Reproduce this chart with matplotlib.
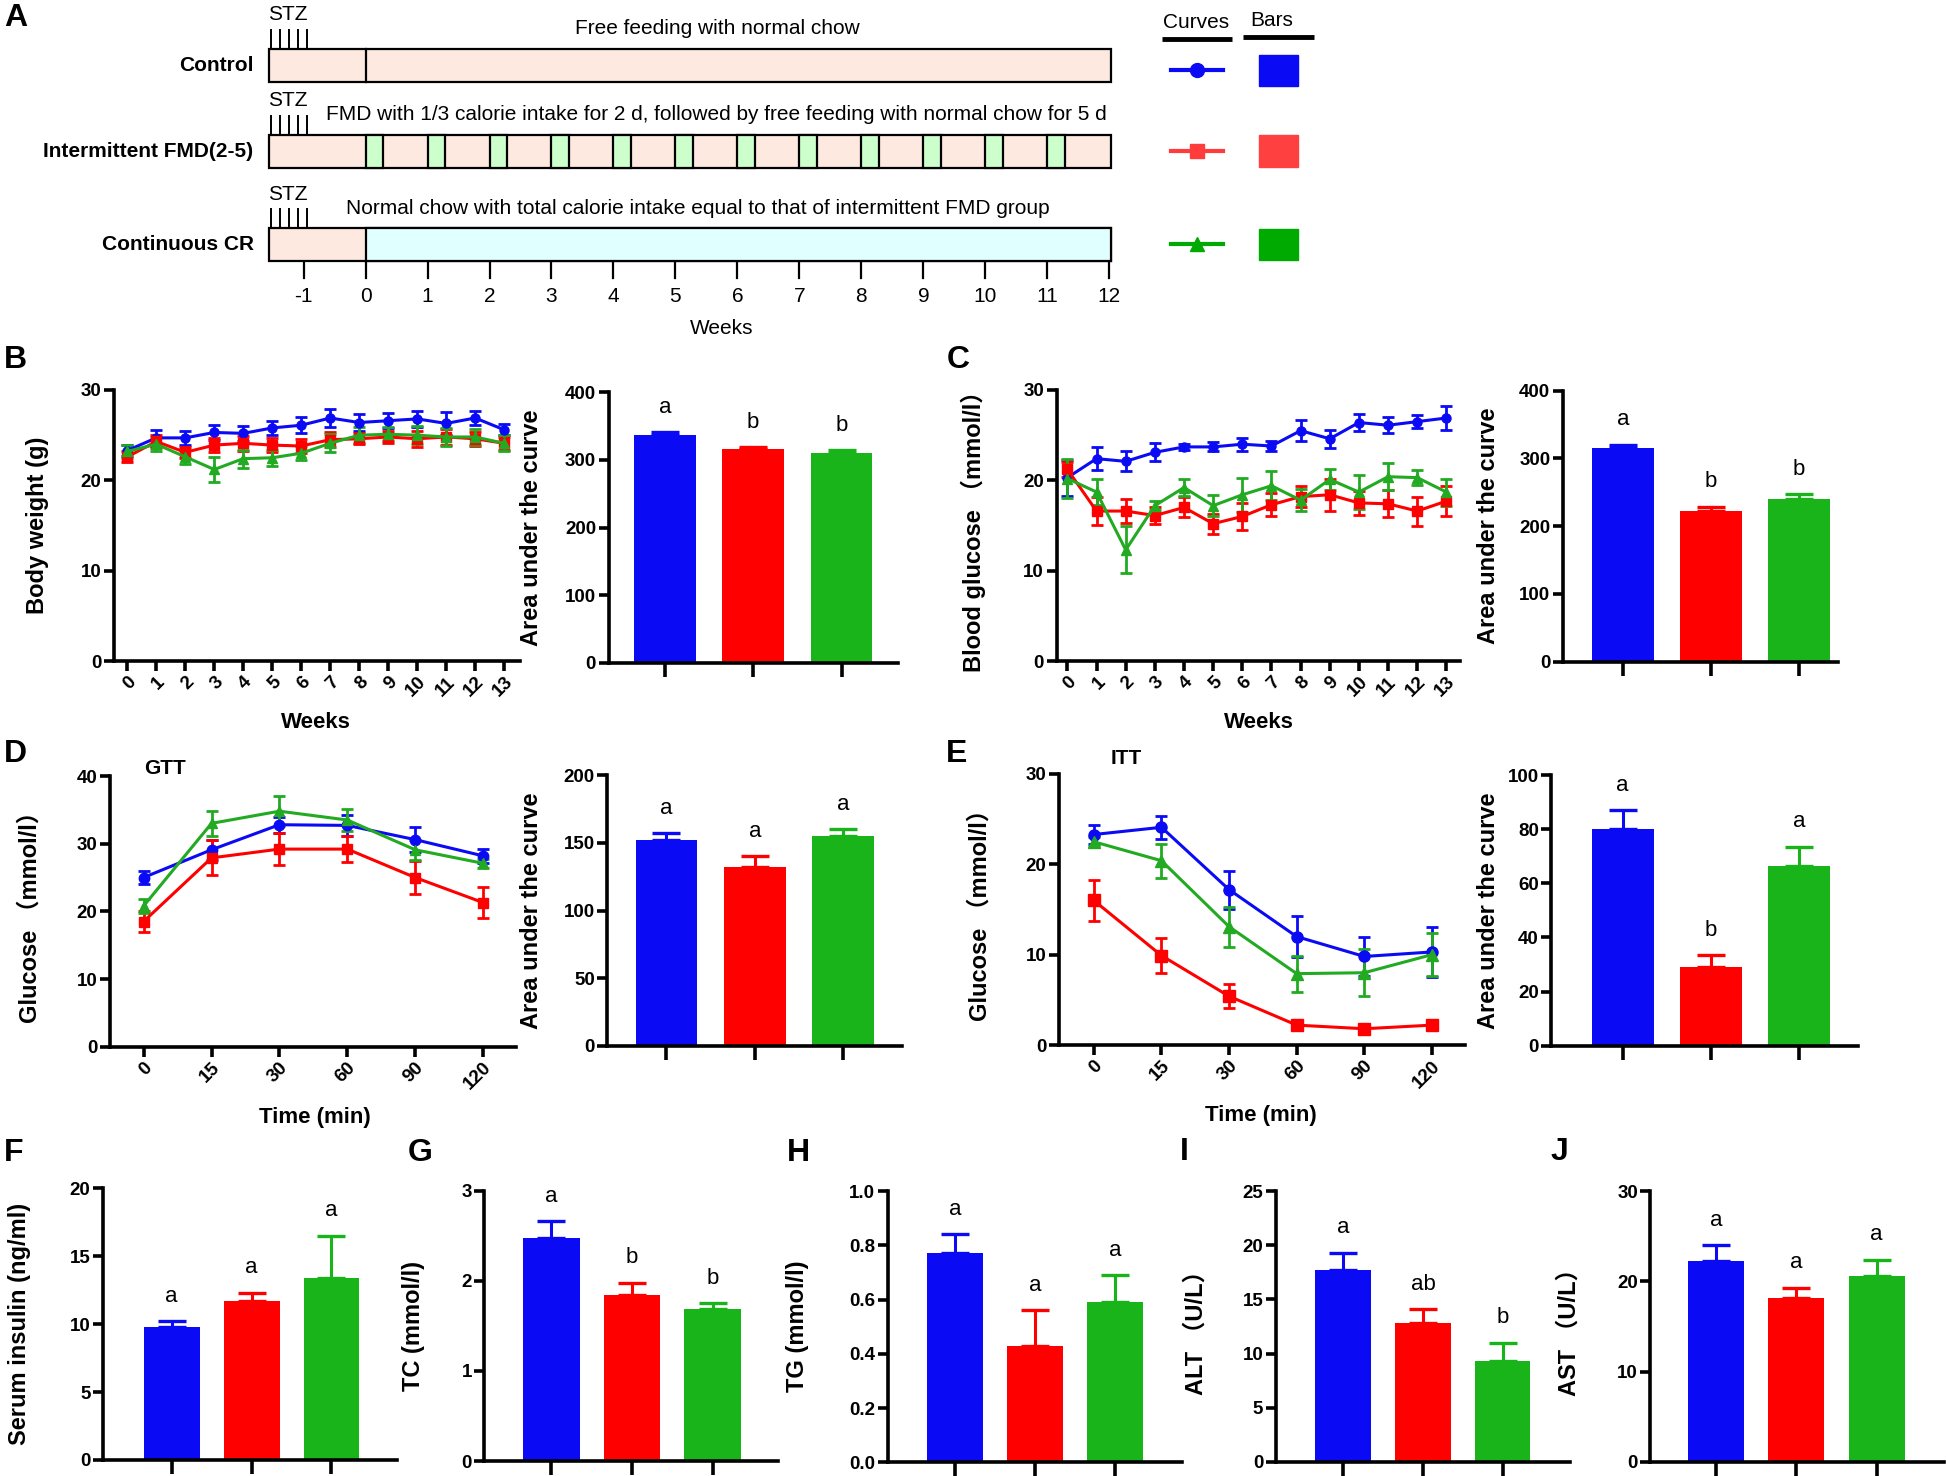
import matplotlib
matplotlib.use("Agg")
import matplotlib.pyplot as plt
import numpy as np
from matplotlib.patches import Rectangle

plt.rcParams['font.family'] = ['Liberation Sans', 'Noto Sans CJK SC', 'DejaVu Sans']

W, H = 1946, 1476
BLUE = '#0A0AF5'
RED = '#FF0000'
GREEN = '#19B419'
LINE_GREEN = '#22AA22'
BAR_COLORS = [BLUE, RED, GREEN]

groups = ['Control', 'Intermittent FMD(2-5)', 'Continuous CR']

# ---- data ----
weeks = list(range(14))
bw_ctrl = [23.3, 24.7, 24.7, 25.3, 25.2, 25.8, 26.1, 26.9, 26.4, 26.6, 26.8, 26.3, 26.9, 25.6]
bw_ctrl_err = [0.6, 0.9, 0.8, 0.8, 0.8, 0.8, 0.9, 1.0, 0.9, 0.8, 0.9, 1.3, 0.8, 0.6]
bw_fmd = [22.6, 24.3, 23.1, 23.9, 24.1, 23.9, 23.8, 24.5, 24.6, 24.8, 24.6, 24.8, 24.6, 24.1]
bw_fmd_err = [0.6, 0.7, 0.6, 0.8, 0.8, 0.8, 0.8, 0.8, 0.6, 0.7, 0.9, 0.9, 0.8, 0.7]
bw_cr = [23.2, 24.0, 22.6, 21.2, 22.4, 22.5, 23.0, 24.1, 25.0, 25.1, 25.0, 24.8, 24.8, 24.1]
bw_cr_err = [0.7, 0.8, 0.8, 1.4, 1.0, 0.9, 0.8, 1.0, 0.9, 0.8, 1.0, 1.0, 0.9, 0.9]
bw_auc = [337, 316, 310]
bw_auc_err = [4, 3, 4]
bw_letters = ['a', 'b', 'b']

bg_ctrl = [20.3, 22.4, 22.1, 23.1, 23.7, 23.7, 24.0, 23.8, 25.5, 24.6, 26.4, 26.1, 26.5, 26.9]
bg_ctrl_err = [2.0, 1.3, 1.1, 1.0, 0.3, 0.5, 0.7, 0.6, 1.2, 1.0, 0.9, 0.9, 0.7, 1.3]
bg_fmd = [21.2, 16.6, 16.6, 16.1, 17.0, 15.2, 16.0, 17.3, 18.2, 18.4, 17.5, 17.4, 16.6, 17.7]
bg_fmd_err = [0.8, 1.5, 1.3, 0.9, 1.1, 1.1, 1.5, 1.3, 1.2, 1.8, 1.3, 1.5, 1.6, 1.7]
bg_cr = [20.2, 18.7, 12.3, 17.2, 19.2, 17.2, 18.4, 19.4, 17.8, 20.1, 18.7, 20.4, 20.3, 18.7]
bg_cr_err = [2.2, 1.4, 2.6, 0.5, 0.9, 1.2, 1.9, 1.6, 1.2, 1.2, 1.9, 1.5, 0.8, 1.5]
bg_auc = [316, 223, 240]
bg_auc_err = [4, 6, 7]
bg_letters = ['a', 'b', 'b']

time_labels = ['0', '15', '30', '60', '90', '120']
gtt_ctrl = [25.0, 29.1, 32.8, 32.7, 30.6, 28.2]
gtt_ctrl_err = [0.9, 1.5, 1.2, 1.6, 1.8, 1.0]
gtt_fmd = [18.5, 27.9, 29.2, 29.2, 25.0, 21.3]
gtt_fmd_err = [1.5, 2.6, 2.4, 1.9, 2.5, 2.3]
gtt_cr = [20.8, 33.0, 34.8, 33.5, 29.1, 27.1]
gtt_cr_err = [1.0, 1.9, 2.2, 1.6, 1.5, 0.7]
gtt_auc = [152, 132, 155]
gtt_auc_err = [5, 8, 5]
gtt_letters = ['a', 'a', 'a']

itt_ctrl = [23.3, 24.1, 17.2, 12.0, 9.8, 10.3]
itt_ctrl_err = [1.0, 1.3, 2.1, 2.3, 2.2, 2.8]
itt_fmd = [16.0, 9.9, 5.4, 2.2, 1.8, 2.2]
itt_fmd_err = [2.3, 1.9, 1.3, 0.4, 0.4, 0.4]
itt_cr = [22.5, 20.4, 13.1, 7.9, 8.0, 10.0]
itt_cr_err = [0.5, 1.9, 2.2, 2.0, 2.6, 2.4]
itt_auc = [80, 29, 66.5]
itt_auc_err = [7, 4.5, 7]
itt_letters = ['a', 'b', 'a']

insulin = [9.8, 11.7, 13.4]
insulin_err = [0.4, 0.6, 3.1]
insulin_letters = ['a', 'a', 'a']
tc = [2.48, 1.84, 1.69]
tc_err = [0.18, 0.14, 0.06]
tc_letters = ['a', 'b', 'b']
tg = [0.77, 0.43, 0.59]
tg_err = [0.07, 0.13, 0.10]
tg_letters = ['a', 'a', 'a']
alt = [17.7, 12.8, 9.3]
alt_err = [1.6, 1.3, 1.7]
alt_letters = ['a', 'ab', 'b']
ast = [22.2, 18.1, 20.6]
ast_err = [1.8, 1.2, 1.8]
ast_letters = ['a', 'a', 'a']

# schedule (weeks)
stz_start = -1.52
stz_days = 5
diet_start = 0
schedule_end = 12
fmd_weeks = list(range(12))
fmd_len = 2 / 7
row_texts = ['Free feeding with normal chow',
             'FMD with 1/3 calorie intake for 2 d, followed by free feeding with normal chow for 5 d',
             'Normal chow with total calorie intake equal to that of intermittent FMD group']

fig = plt.figure(figsize=(W / 100, H / 100), dpi=100)


def px_axes(x0, y0, x1, y1):
    return fig.add_axes([x0 / W, 1 - y1 / H, (x1 - x0) / W, (y1 - y0) / H])


def ftext(x, y, s, **kw):
    fig.text(x / W, 1 - y / H, s, **kw)


def style(ax, xlim, ylim, yticks, ylabel, lab_x, yticklabels=None):
    ax.set_xlim(xlim)
    ax.set_ylim(ylim)
    ax.set_yticks(yticks)
    if yticklabels is not None:
        ax.set_yticklabels(yticklabels)
    ax.spines[['top', 'right']].set_visible(False)
    ax.spines[['left', 'bottom']].set_linewidth(2.6)
    ax.tick_params(width=2.6, length=7, labelsize=13.5, pad=2)
    for t in ax.get_yticklabels():
        t.set_fontweight('bold')
    ax.patch.set_alpha(0)
    bb = ax.get_position()
    ax.set_ylabel(ylabel, fontsize=17, fontweight='bold')
    ax.yaxis.set_label_coords((lab_x / W - bb.x0) / bb.width, 0.5)


def line_panel(rect, x, series, xlabels, xlim, ylim, yticks, ylabel, lab_x, ms=7):
    ax = px_axes(*rect)
    markers = ['o', 's', '^']
    colors = [BLUE, RED, LINE_GREEN]
    for (vals, err), m, c in zip(series, markers, colors):
        ax.errorbar(x, vals, yerr=err, color=c, marker=m, ms=ms, lw=2.2,
                    elinewidth=2, capsize=4.5, capthick=2)
    ax.set_xticks(x)
    ax.set_xticklabels(xlabels, rotation=45, ha='right', rotation_mode='anchor',
                       fontweight='bold', fontsize=14.5)
    style(ax, xlim, ylim, yticks, ylabel, lab_x)
    return ax


def bar_panel(rect, vals, errs, letters, xlim, ylim, yticks, ylabel, lab_x, yticklabels=None):
    ax = px_axes(*rect)
    x = np.arange(3)
    ax.bar(x, vals, width=0.7, color=BAR_COLORS, zorder=2)
    for xi, v, e, c, l in zip(x, vals, errs, BAR_COLORS, letters):
        ax.errorbar([xi], [v], yerr=[[0], [e]], fmt='none', ecolor=c,
                    elinewidth=2.2, capsize=10, capthick=2.4, zorder=1)
        ax.annotate(l, (xi, v + e), xytext=(0, 18), textcoords='offset points',
                    ha='center', va='center', fontsize=16)
    ax.set_xticks(x)
    ax.set_xticklabels([])
    style(ax, xlim, ylim, yticks, ylabel, lab_x, yticklabels)
    ax.tick_params(axis='x', length=10)
    return ax


# ---- panel A: schedule ----
axA = px_axes(260, 0, 1120, 340)
axA.set_xlim(-1.703, 12.173)
axA.set_ylim(340, 0)
axA.axis('off')
PEACH = '#FDE9E0'
CYAN = '#E0FFFF'
LGREEN = '#CCFFCC'
bar_tops = [49, 135, 228.3]
bar_h = 32.6
left_edge = -1.565
for i, top in enumerate(bar_tops):
    axA.add_patch(Rectangle((left_edge, top), schedule_end - left_edge + 0.03, bar_h,
                            facecolor=PEACH, edgecolor='black', lw=1.6))
    if i == 2:
        axA.add_patch(Rectangle((diet_start, top), schedule_end - diet_start + 0.03, bar_h,
                                facecolor=CYAN, edgecolor='black', lw=1.6))
    elif i == 0:
        axA.plot([diet_start, diet_start], [top, top + bar_h], color='black', lw=1.6)
    else:
        for wk in fmd_weeks:
            axA.add_patch(Rectangle((wk, top), fmd_len, bar_h,
                                    facecolor=LGREEN, edgecolor='black', lw=1.6))
    for d in range(stz_days):
        xx = stz_start + d / 7
        axA.plot([xx, xx], [top - 19, top], color='black', lw=1.4)
    axA.text(-1.255, top - 34, 'STZ', ha='center', va='center', fontsize=15)
    axA.text([5.68, 5.66, 5.36][i], top - 20, row_texts[i], ha='center', va='center',
             fontsize=15)
    axA.text(-1.807, top + bar_h / 2, groups[i], ha='right', va='center',
             fontsize=15, fontweight='bold', clip_on=False)
week_ticks = list(range(-1, 13))
for wk in week_ticks:
    axA.plot([wk, wk], [263.3, 278.3], color='black', lw=1.6)
    axA.text(wk, 296.7, str(wk), ha='center', va='center', fontsize=15)
axA.text(5.74, 328.3, 'Weeks', ha='center', va='center', fontsize=15)

# legend (curves / bars)
axL = px_axes(1140, 0, 1340, 280)
axL.set_xlim(1140, 1340)
axL.set_ylim(280, 0)
axL.axis('off')
axL.text(1196, 22.7, 'Curves', ha='center', va='center', fontsize=15)
axL.text(1271.7, 20, 'Bars', ha='center', va='center', fontsize=15)
axL.plot([1161.7, 1232.3], [39, 39], color='black', lw=3.5, solid_capstyle='butt')
axL.plot([1243.3, 1314.3], [37, 37], color='black', lw=3.5, solid_capstyle='butt')
leg_y = [70.3, 150.7, 244]
leg_markers = ['o', 's', '^']
leg_line_colors = [BLUE, '#FF3B3B', '#00AA00']
leg_bar_colors = [BLUE, '#FF4040', '#00AA00']
for yy, m, lc, bc in zip(leg_y, leg_markers, leg_line_colors, leg_bar_colors):
    axL.plot([1171, 1222.7], [yy, yy], color=lc, lw=3)
    axL.plot([1196.7], [yy], color=lc, marker=m, ms=10, lw=0)
    axL.add_patch(Rectangle((1259.3, yy - 15.5), 39, 31.7, color=bc))

# ---- panel B ----
line_panel((113.7, 390, 519.5, 661), weeks,
           [(bw_ctrl, bw_ctrl_err), (bw_fmd, bw_fmd_err), (bw_cr, bw_cr_err)],
           [str(w) for w in weeks], (-0.47, 13.53), (0, 30), [0, 10, 20, 30],
           'Body weight (g)', 49, ms=6.5)
ftext(316, 723, 'Weeks', ha='center', va='center', fontsize=16, fontweight='bold')
bar_panel((608.5, 392.3, 898, 662.7), bw_auc, bw_auc_err, bw_letters, (-0.64, 2.64),
          (0, 400), [0, 100, 200, 300, 400], 'Area under the curve', 542.5)

# ---- panel C ----
line_panel((1056.5, 390, 1459.5, 661), weeks,
           [(bg_ctrl, bg_ctrl_err), (bg_fmd, bg_fmd_err), (bg_cr, bg_cr_err)],
           [str(w) for w in weeks], (-0.374, 13.45), (0, 30), [0, 10, 20, 30],
           'Blood glucose （mmol/l）', 986, ms=6.5)
ftext(1258.6, 723, 'Weeks', ha='center', va='center', fontsize=16, fontweight='bold')
bar_panel((1562.8, 390.7, 1838, 661.7), bg_auc, bg_auc_err, bg_letters, (-0.68, 2.44),
          (0, 400), [0, 100, 200, 300, 400], 'Area under the curve', 1500)

# ---- panel D ----
tx = list(range(len(time_labels)))
line_panel((109.7, 776, 515.6, 1046.7), tx,
           [(gtt_ctrl, gtt_ctrl_err), (gtt_fmd, gtt_fmd_err), (gtt_cr, gtt_cr_err)],
           time_labels, (-0.5, 5.48), (0, 40), [0, 10, 20, 30, 40],
           'Glucose （mmol/l）', 42, ms=7.5)
ftext(164.9, 768, 'GTT', ha='center', va='center', fontsize=15, fontweight='bold')
ftext(314.7, 1118, 'Time (min)', ha='center', va='center', fontsize=16, fontweight='bold')
bar_panel((607.3, 775, 902.3, 1046), gtt_auc, gtt_auc_err, gtt_letters, (-0.67, 2.67),
          (0, 200), [0, 50, 100, 150, 200], 'Area under the curve', 542.6)

# ---- panel E ----
line_panel((1058.7, 774, 1465, 1045), tx,
           [(itt_ctrl, itt_ctrl_err), (itt_fmd, itt_fmd_err), (itt_cr, itt_cr_err)],
           time_labels, (-0.52, 5.49), (0, 30), [0, 10, 20, 30],
           'Glucose （mmol/l）', 991.6, ms=8)
ftext(1126.5, 758, 'ITT', ha='center', va='center', fontsize=15, fontweight='bold')
ftext(1261, 1115, 'Time (min)', ha='center', va='center', fontsize=16, fontweight='bold')
bar_panel((1551.3, 775, 1858, 1045.7), itt_auc, itt_auc_err, itt_letters, (-0.81, 2.67),
          (0, 100), [0, 20, 40, 60, 80, 100], 'Area under the curve', 1499.6)

# ---- panels F-J ----
bar_panel((103, 1188.3, 397, 1460), insulin, insulin_err, insulin_letters, (-0.86, 2.82),
          (0, 20), [0, 5, 10, 15, 20], 'Serum insulin (ng/ml)', 31)
bar_panel((484.4, 1190.7, 778, 1461), tc, tc_err, tc_letters, (-0.83, 2.81),
          (0, 3), [0, 1, 2, 3], 'TC (mmol/l)', 425)
bar_panel((887.5, 1191, 1182, 1462.3), tg, tg_err, tg_letters, (-0.84, 2.83),
          (0, 1.0), [0, 0.2, 0.4, 0.6, 0.8, 1.0], 'TG (mmol/l)', 809,
          yticklabels=['0.0', '0.2', '0.4', '0.6', '0.8', '1.0'])
bar_panel((1275.7, 1191, 1570.2, 1462), alt, alt_err, alt_letters, (-0.85, 2.85),
          (0, 25), [0, 5, 10, 15, 20, 25], 'ALT （U/L）', 1208)
bar_panel((1650.4, 1191, 1944, 1462), ast, ast_err, ast_letters, (-0.82, 2.84),
          (0, 30), [0, 10, 20, 30], 'AST （U/L）', 1580.7)

# panel letters
for letter, (lx, ly) in zip('ABCDEFGHIJ',
                            [(16, 18), (15, 360), (958, 360), (15, 754), (957, 754),
                             (14, 1153), (420, 1153), (798, 1153), (1184, 1152), (1559, 1152)]):
    ftext(lx, ly, letter, ha='center', va='center', fontsize=23, fontweight='bold')

fig.savefig('out.png', dpi=100)
